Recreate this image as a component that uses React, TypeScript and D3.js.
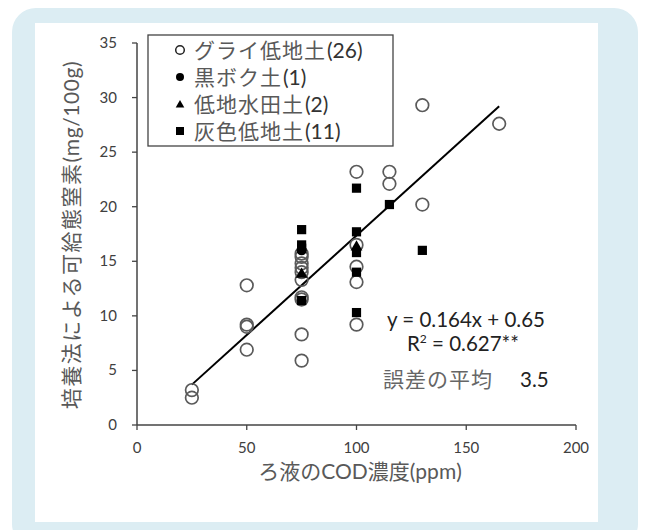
import React from 'react';
import * as d3 from 'd3';

// グライ低地土 (open circles)
const gleyX = [25, 25, 50, 50, 50, 50, 75, 75, 75, 75, 75, 75, 75, 75, 75, 75, 100, 100, 100, 100, 100, 115, 115, 130, 130, 165];
const gleyY = [3.2, 2.5, 12.8, 9.2, 9.0, 6.9, 15.7, 15.4, 14.8, 14.4, 14.0, 13.3, 11.7, 11.5, 8.3, 5.9, 23.2, 16.5, 14.5, 13.1, 9.2, 23.2, 22.1, 29.3, 20.2, 27.6];
// 黒ボク土 (filled circle)
const andoX = [75];
const andoY = [16.0];
// 低地水田土 (triangles)
const paddyX = [75, 100];
const paddyY = [13.8, 16.3];
// 灰色低地土 (squares)
const grayX = [75, 75, 75, 75, 100, 100, 100, 100, 100, 115, 130];
const grayY = [17.9, 16.5, 16.2, 11.4, 21.7, 17.7, 15.8, 14.0, 10.3, 20.2, 16.0];

const fitX = [25, 165];
const fitY = [3.7, 29.2];

const xTicks = [0, 50, 100, 150, 200];
const yTicks = [0, 5, 10, 15, 20, 25, 30, 35];

const legendLabels = ['グライ低地土', '黒ボク土', '低地水田土', '灰色低地土'];
const legendCounts = ['(26)', '(1)', '(2)', '(11)'];

const latin = 'Lato, "Noto Sans", "Noto Sans CJK JP", sans-serif';
const jp = '"Noto Sans CJK JP", "Noto Sans", sans-serif';

const App = () => {
  const x = d3.scaleLinear().domain([0, 200]).range([137, 576]);
  const y = d3.scaleLinear().domain([0, 35]).range([425, 43]);
  const line = d3.line<number>().x((d) => x(d)).y((d, i) => y(fitY[i]));
  const tri = d3.symbol().type(d3.symbolTriangle).size(60)() as string;
  const triSmall = d3.symbol().type(d3.symbolTriangle).size(32)() as string;

  const marker = (i: number, cx: number, cy: number) => {
    if (i === 0) return <circle cx={cx} cy={cy} r={4.3} fill="none" stroke="#222" strokeWidth={1.5} />;
    if (i === 1) return <circle cx={cx} cy={cy} r={4} fill="#000" />;
    if (i === 2) return <path d={triSmall} transform={`translate(${cx},${cy + 1})`} fill="#000" />;
    return <rect x={cx - 4} y={cy - 4} width={8} height={8} fill="#000" />;
  };

  return (
    <div style={{ position: 'absolute', left: 0, top: 0 }}>
      <svg width={645} height={530}>
        <rect x={12} y={8} width={626} height={540} rx={24} fill="#dcedf3" />
        <rect x={35} y={23} width={563} height={499} fill="#fff" />

        {/* axes */}
        <line x1={x(0)} x2={x(200)} y1={y(0)} y2={y(0)} stroke="#444" strokeWidth={1.5} />
        <line x1={x(0)} x2={x(0)} y1={y(0)} y2={y(35)} stroke="#444" strokeWidth={1.5} />
        {xTicks.map((t) => (
          <g key={'x' + t}>
            <line x1={x(t)} x2={x(t)} y1={y(0)} y2={y(0) + 5} stroke="#444" strokeWidth={1.3} />
            <text x={x(t)} y={453} textAnchor="middle" fontFamily={latin} fontSize={15} fill="#404040">{t}</text>
          </g>
        ))}
        {yTicks.map((t) => (
          <g key={'y' + t}>
            <line x1={x(0) - 5} x2={x(0)} y1={y(t)} y2={y(t)} stroke="#444" strokeWidth={1.3} />
            <text x={117} y={y(t) + 5} textAnchor="end" fontFamily={latin} fontSize={15} fill="#404040">{t}</text>
          </g>
        ))}

        <text x={360} y={479} textAnchor="middle" fontFamily={jp} fontSize={21} fill="#595959">
          ろ液の<tspan fontFamily={latin}>COD</tspan>濃度<tspan fontFamily={latin}>(ppm)</tspan>
        </text>
        <text transform="translate(79,235) rotate(-90)" textAnchor="middle" fontFamily={jp} fontSize={21} fill="#595959" letterSpacing={1.5}>
          培養法による可給態窒素<tspan fontFamily={latin} letterSpacing={0.6}>(mg/100g)</tspan>
        </text>

        {/* regression line */}
        <path d={line(fitX) as string} fill="none" stroke="#000" strokeWidth={2} />

        {/* points */}
        {gleyX.map((v, i) => (
          <circle key={'g' + i} cx={x(v)} cy={y(gleyY[i])} r={6.3} fill="none" stroke="#5a5a5a" strokeWidth={1.7} />
        ))}
        {andoX.map((v, i) => (
          <circle key={'a' + i} cx={x(v)} cy={y(andoY[i])} r={5} fill="#000" />
        ))}
        {paddyX.map((v, i) => (
          <path key={'p' + i} d={tri} transform={`translate(${x(v)},${y(paddyY[i])})`} fill="#000" />
        ))}
        {grayX.map((v, i) => (
          <rect key={'s' + i} x={x(v) - 4.6} y={y(grayY[i]) - 4.6} width={9.2} height={9.2} fill="#000" />
        ))}

        {/* legend */}
        <rect x={148} y={35} width={245} height={111} fill="#fff" stroke="#444" strokeWidth={1.3} />
        {legendLabels.map((l, i) => (
          <g key={'l' + i}>
            {marker(i, 180, 50 + i * 27)}
            <text x={194} y={57.5 + i * 27} fontFamily={jp} fontSize={21} fill="#595959" letterSpacing={1}>{l}</text>
            <text x={195 + l.length * 22} y={57.5 + i * 27} fontFamily={latin} fontSize={21} fill="#333">{legendCounts[i]}</text>
          </g>
        ))}

        {/* annotation */}
        <text x={387} y={327} fontFamily={latin} fontSize={20.5} fill="#222">y = 0.164x + 0.65</text>
        <text x={407} y={351} fontFamily={latin} fontSize={20.5} fill="#222">
          R<tspan dy={-8} fontSize={12}>2</tspan><tspan dy={8}> = 0.627**</tspan>
        </text>
        <text x={383} y={387} fontFamily={jp} fontSize={21} fill="#666" letterSpacing={1}>誤差の平均</text>
        <text x={520} y={387} fontFamily={latin} fontSize={20.5} fill="#222">3.5</text>
      </svg>
    </div>
  );
};

export default App;
